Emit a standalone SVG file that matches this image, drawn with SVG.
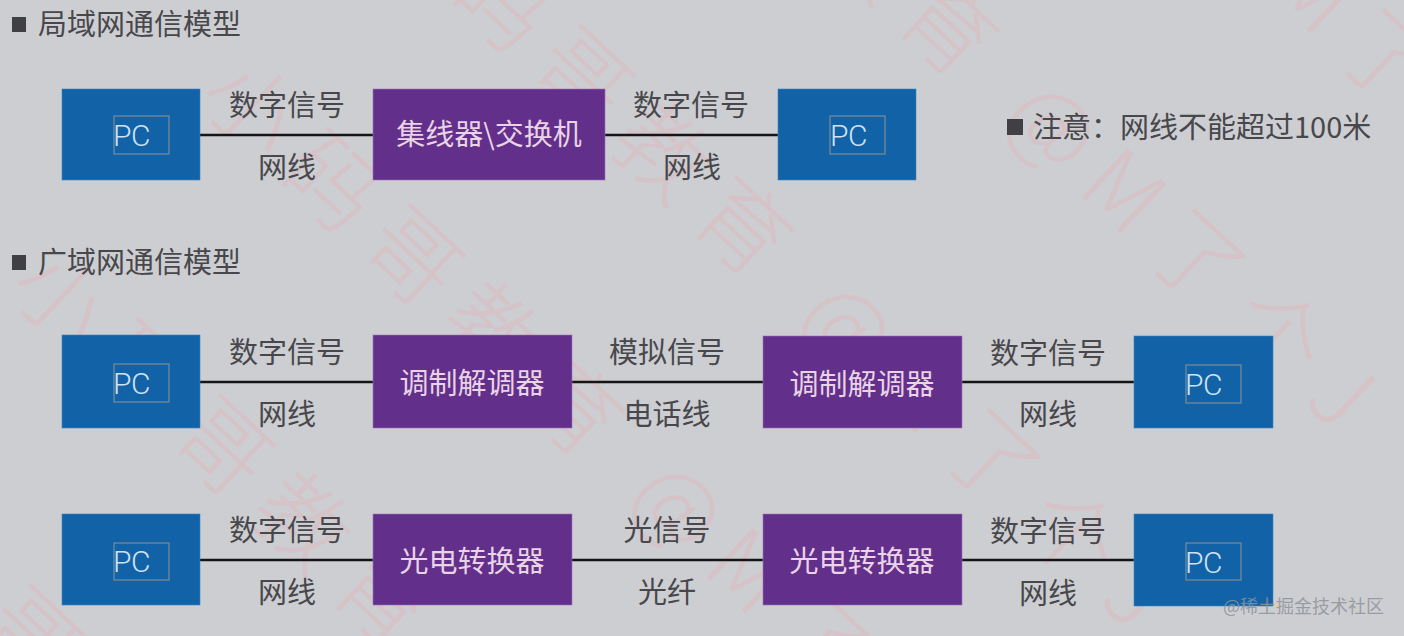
<svg xmlns="http://www.w3.org/2000/svg" width="1404" height="636" viewBox="0 0 1404 636">
<style>
text{font-family:"Noto Sans CJK SC","Noto Sans",sans-serif}
.t{font-size:29px;fill:#48484c}
.c{text-anchor:middle}
.w{font-size:29px;fill:#e9d3e6;text-anchor:middle}
.pc{fill:#1262a8;stroke:#3a86c4;stroke-width:.6}
.pr{fill:#62308a;stroke:#a070b8;stroke-width:.6}
.pb{fill:none;stroke:#7d8a94;stroke-width:1.2}
.pt{font-family:Roboto,"Liberation Sans",sans-serif;font-size:30px;fill:#cfe2f2;font-weight:300;letter-spacing:-.5px}
.l{stroke:#151518;stroke-width:2.4;fill:none}
.b{fill:#3f3f44}
.wm{font-size:92px;fill:#e8a8ae;fill-opacity:.3;letter-spacing:18px;font-weight:300}
.mk{font-family:"Noto Sans CJK SC",sans-serif;font-size:18px;fill:#8f9399;fill-opacity:.85}
</style>
<rect width="1404" height="636" fill="#cdced2"/>
<g id="watermark">
<text class="wm" transform="translate(760 -480) rotate(43)">小码哥教育 @M了个J</text>
<text class="wm" transform="translate(570 -280) rotate(43)">小码哥教育 @M了个J</text>
<text class="wm" transform="translate(365 -80) rotate(43)">小码哥教育 @M了个J</text>
<text class="wm" transform="translate(195 100) rotate(43)">小码哥教育 @M了个J</text>
<text class="wm" transform="translate(5 290) rotate(43)">小码哥教育 @M了个J</text>
<text class="wm" transform="translate(-185 480) rotate(43)">小码哥教育 @M了个J</text>
</g>
<g id="connectors">
<path class="l" d="M200 135H373M605 135H778"/>
<path class="l" d="M200 382H373M572 382H763M962 382H1134"/>
<path class="l" d="M200 560H373M572 560H763M962 560H1134"/>
</g>
<g id="title-lan"><rect class="b" x="12" y="17" width="14" height="15"/><text class="t" x="38" y="35">局域网通信模型</text></g>
<g id="title-wan"><rect class="b" x="12" y="255" width="14" height="15"/><text class="t" x="38" y="273">广域网通信模型</text></g>
<g id="note"><rect class="b" x="1007" y="119" width="16" height="16"/><text class="t" x="1033" y="138">注意&#xFF1A;网线不能超过100米</text></g>
<g id="pc-1"><rect class="pc" x="62" y="89" width="138" height="91"/><rect class="pb" x="114" y="116" width="55" height="38"/><text class="pt" x="113" y="146">PC</text></g>
<g id="hub"><rect class="pr" x="373" y="89" width="232" height="91"/><text class="w" x="489" y="145">集线器\交换机</text></g>
<g id="pc-2"><rect class="pc" x="778" y="89" width="138" height="91"/><rect class="pb" x="830" y="116" width="55" height="38"/><text class="pt" x="830" y="146">PC</text></g>
<g id="pc-3"><rect class="pc" x="62" y="335" width="138" height="93"/><rect class="pb" x="114" y="364" width="55" height="38"/><text class="pt" x="113" y="394">PC</text></g>
<g id="modem-1"><rect class="pr" x="373" y="335" width="199" height="93"/><text class="w" x="472" y="394">调制解调器</text></g>
<g id="modem-2"><rect class="pr" x="763" y="336" width="199" height="92"/><text class="w" x="862" y="395">调制解调器</text></g>
<g id="pc-4"><rect class="pc" x="1134" y="336" width="139" height="92"/><rect class="pb" x="1186" y="365" width="55" height="38"/><text class="pt" x="1185" y="395">PC</text></g>
<g id="pc-5"><rect class="pc" x="62" y="514" width="138" height="91"/><rect class="pb" x="114" y="543" width="55" height="37"/><text class="pt" x="113" y="572">PC</text></g>
<g id="conv-1"><rect class="pr" x="373" y="514" width="199" height="91"/><text class="w" x="472" y="572">光电转换器</text></g>
<g id="conv-2"><rect class="pr" x="763" y="514" width="199" height="91"/><text class="w" x="862" y="572">光电转换器</text></g>
<g id="pc-6"><rect class="pc" x="1134" y="514" width="139" height="92"/><rect class="pb" x="1186" y="543" width="55" height="37"/><text class="pt" x="1185" y="573">PC</text></g>
<g id="labels">
<text class="t c" x="287" y="116">数字信号</text><text class="t c" x="287" y="178">网线</text>
<text class="t c" x="691" y="116">数字信号</text><text class="t c" x="692" y="178">网线</text>
<text class="t c" x="287" y="363">数字信号</text><text class="t c" x="287" y="425">网线</text>
<text class="t c" x="667" y="363">模拟信号</text><text class="t c" x="667" y="425">电话线</text>
<text class="t c" x="1048" y="364">数字信号</text><text class="t c" x="1048" y="425">网线</text>
<text class="t c" x="287" y="541">数字信号</text><text class="t c" x="287" y="603">网线</text>
<text class="t c" x="667" y="541">光信号</text><text class="t c" x="667" y="603">光纤</text>
<text class="t c" x="1048" y="542">数字信号</text><text class="t c" x="1048" y="604">网线</text>
</g>
<text class="mk" x="1223" y="613">@稀土掘金技术社区</text>
</svg>
